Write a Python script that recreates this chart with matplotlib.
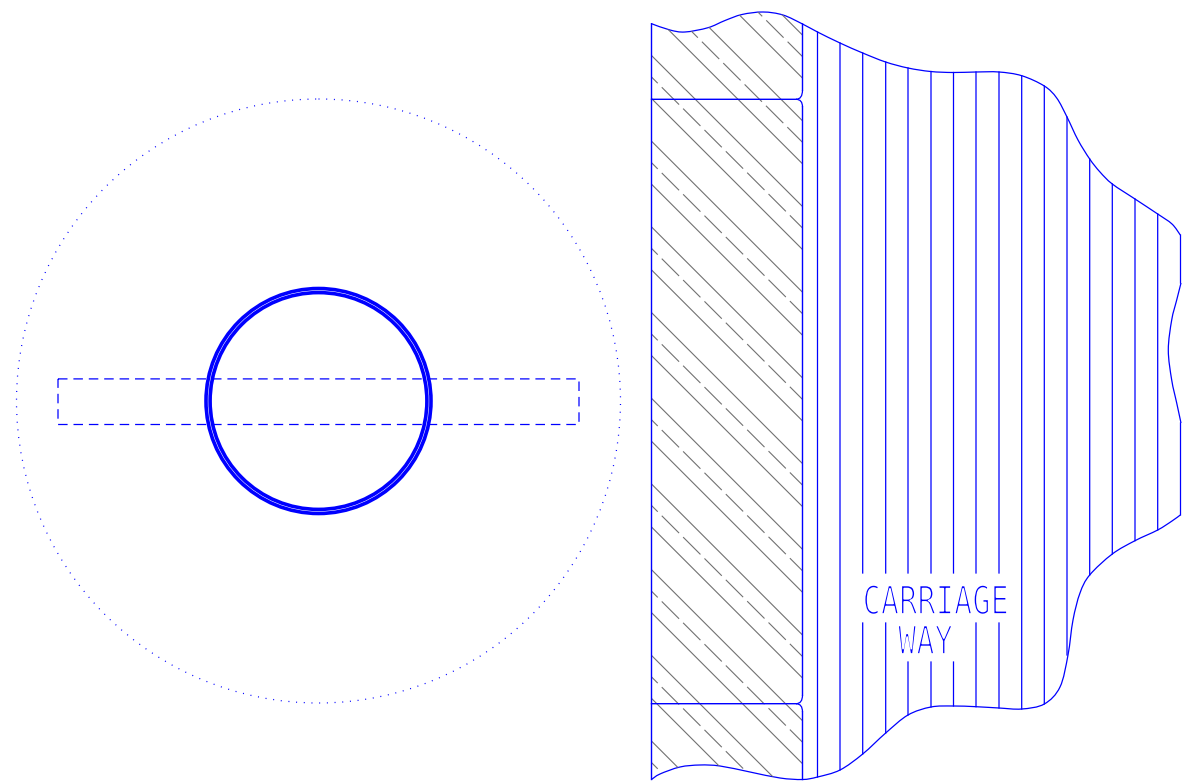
import matplotlib
matplotlib.use("Agg")
import matplotlib.pyplot as plt
from matplotlib.path import Path
from matplotlib.patches import Circle, PathPatch, Rectangle
from matplotlib.patheffects import AbstractPathEffect
from matplotlib.transforms import Affine2D

plt.rcParams['lines.scale_dashes'] = False
plt.rcParams['path.snap'] = False

BLUE = '#0000ff'
GREY = '#707070'
PX = 0.72

# --- left view
center = (318.5, 401.0)
dotted_radius = 302.0
ring_radii = [112.5, 108.4]
slot = (58.0, 378.9, 579.0, 424.5)

# --- right view, outline
top_x = [651.5, 670, 685, 708, 725, 742, 763, 783, 802.5, 817.5, 840, 862.7, 885.6, 908, 930.6, 953, 976, 999,
         1021.7, 1044.3, 1056.7, 1067, 1078, 1089.7, 1100, 1112.3, 1135, 1157.7, 1172, 1180.3]
top_y = [23.7, 30, 32, 27.7, 20.5, 14.5, 12, 15, 24, 32, 43, 53, 62, 68, 71.5, 72.5, 72, 72,
         75.7, 86, 98, 117, 140, 159, 172, 184, 199, 214, 224, 235]
wig_x = [1181, 1176.7, 1171.7, 1168.3, 1171.7, 1176.7, 1181]
wig_y = [283, 300, 320, 350, 380, 403, 423]
bot_x = [1180.3, 1172, 1157.7, 1135, 1112.3, 1089.7, 1080, 1073, 1068, 1060, 1044.3, 1021.7, 999, 976, 953,
         931, 908, 885.7, 862.7, 840, 817.5, 802.5, 780, 750, 720, 700, 680, 660, 651.5]
bot_y = [515, 521, 530, 540.7, 554, 575, 593, 620, 655, 687, 704, 709, 708, 706.7, 706,
         707, 715, 733, 754, 770, 777, 779.5, 778, 772, 766, 765, 767, 774, 779.5]

# --- right view, vertical hatch: x, top, bottom, optional gap around the text
hatch_x = [840, 862.7, 885.7, 908, 931, 953.5, 976, 999, 1021.7, 1044.3, 1067, 1089.7, 1112.3, 1135, 1157.7]
hatch_top = [43, 53, 62, 68, 71.5, 72.5, 72, 72, 75.7, 86, 117, 159, 184, 199, 214]
hatch_bot = [770, 754, 733, 715, 707, 706, 706.7, 708, 709, 704, 655, 575, 554, 540.7, 530]
gap_bot = [None, 623, 623, 662, 662, 662, 623, 623, None, None, None, None, None, None, None]
gap_top = 573

# --- offsets (y where a 45 degree hatch line meets the left edge)
solid_offsets = [-115.9, -72.9, -30.2, 12.8, 55.5, 98.5, 141.2, 184.2, 226.9, 269.9, 312.6, 355.6, 398.3, 441.3,
                 484.0, 527.0, 569.7, 612.7, 655.4, 698.4, 741.1]
dash_offsets = [-94.4, -8.7, 77.0, 162.7, 248.4, 334.1, 419.8, 505.5, 591.2, 676.9, 762.6]

label_lines = ["CARRIAGE", "WAY"]
label_xy = [(862.5, 614.0), (898.0, 654.0)]


def smooth(xs, ys):
    """Catmull-Rom through the read points, as cubic Bezier path pieces."""
    pts = list(zip(xs, ys))
    verts, codes = [pts[0]], [Path.MOVETO]
    for i in range(len(pts) - 1):
        p0 = pts[max(i - 1, 0)]
        p1, p2 = pts[i], pts[i + 1]
        p3 = pts[min(i + 2, len(pts) - 1)]
        c1 = (p1[0] + (p2[0] - p0[0]) / 6, p1[1] + (p2[1] - p0[1]) / 6)
        c2 = (p2[0] - (p3[0] - p1[0]) / 6, p2[1] - (p3[1] - p1[1]) / 6)
        verts += [c1, c2, p2]
        codes += [Path.CURVE4] * 3
    return verts, codes


class DraftGlyphs(AbstractPathEffect):
    """Squeeze the glyphs about the baseline start and thin the strokes."""
    def __init__(self, sx, sy, erode):
        super().__init__()
        self.sx, self.sy, self.erode = sx, sy, erode

    def draw_path(self, renderer, gc, tpath, affine, rgbFace=None):
        m = affine.get_matrix()
        ox, oy = m[0, 2], m[1, 2]
        aff = affine + Affine2D().translate(-ox, -oy).scale(self.sx, self.sy).translate(ox, oy)
        renderer.draw_path(gc, tpath, aff, rgbFace)
        gc0 = renderer.new_gc()
        gc0.copy_properties(gc)
        gc0.set_linewidth(self.erode)
        gc0.set_foreground('white')
        renderer.draw_path(gc0, tpath, aff, None)
        gc0.restore()


fig = plt.figure(figsize=(11.82, 7.83), dpi=100)
ax = fig.add_axes([0, 0, 1, 1])
ax.set_xlim(0, 1182)
ax.set_ylim(783, 0)
ax.axis('off')

LW = 1.25 * PX
# left view
ax.add_patch(Circle(center, dotted_radius, fill=False, ec=BLUE, lw=LW, ls=(0, (1.0 * PX, 6.7 * PX))))
for r in ring_radii:
    ax.add_patch(Circle(center, r, fill=False, ec=BLUE, lw=3.6 * PX))
x0, y0, x1, y1 = slot
ax.add_patch(Rectangle((x0, y0), x1 - x0, y1 - y0, fill=False, ec=BLUE, lw=LW,
                       ls=(0, (9.5 * PX, 5.9 * PX))))

# block clip region for diagonal hatch
n_top = top_x.index(802.5) + 1
n_bot = bot_x.index(802.5)
v1, c1 = smooth(top_x[:n_top], top_y[:n_top])
v2, c2 = smooth(bot_x[n_bot:], bot_y[n_bot:])
clip_path = Path(v1 + v2 + [v1[0]], c1 + [Path.LINETO] + c2[1:] + [Path.CLOSEPOLY])
clip_patch = PathPatch(clip_path, transform=ax.transData, fc='none', ec='none')
ax.add_patch(clip_patch)

for c in solid_offsets:
    ln, = ax.plot([651.5, 802.5], [c, c + 151.0], color=GREY, lw=1.1 * PX, solid_capstyle='butt')
    ln.set_clip_path(clip_patch)
for c in dash_offsets:
    ln, = ax.plot([640.4, 802.5], [c - 11.1, c + 151.0], color=GREY, lw=1.1 * PX,
                  ls=(0, (24.5 * PX, 5.7 * PX)), dash_capstyle='butt')
    ln.set_clip_path(clip_patch)

# outline curves
for xs, ys in [(top_x, top_y), (wig_x, wig_y), (bot_x, bot_y)]:
    v, c = smooth(xs, ys)
    ax.add_patch(PathPatch(Path(v, c), fill=False, ec=BLUE, lw=LW))

# block edges
ax.plot([651.5, 651.5], [23.7, 779.5], color=BLUE, lw=1.4 * PX)
for ya, yb in [(24, 90), (107, 695), (712, 779.5)]:
    ax.plot([802.5, 802.5], [ya, yb], color=BLUE, lw=1.4 * PX)
ax.plot([817.5, 817.5], [32, 777], color=BLUE, lw=LW)
ax.plot([1180.5, 1180.5], [235, 283], color=BLUE, lw=LW)
ax.plot([1180.5, 1180.5], [423, 515], color=BLUE, lw=LW)

# joint lines with small fillets
for yj, up, dn in [(99.3, 90, 107), (703.7, 695, 712)]:
    ax.plot([651.5, 796], [yj, yj], color=BLUE, lw=1.4 * PX)
    for yend in (up, dn):
        p = Path([(796, yj), (802.5, yj), (802.5, yend)], [Path.MOVETO, Path.CURVE3, Path.CURVE3])
        ax.add_patch(PathPatch(p, fill=False, ec=BLUE, lw=LW))

# carriage way hatch
for x, t, b, g in zip(hatch_x, hatch_top, hatch_bot, gap_bot):
    if g is None:
        ax.plot([x, x], [t, b], color=BLUE, lw=LW)
    else:
        ax.plot([x, x], [t, gap_top], color=BLUE, lw=LW)
        ax.plot([x, x], [g, b], color=BLUE, lw=LW)

# label
for s, (tx, ty) in zip(label_lines, label_xy):
    ax.text(tx, ty, s, family='DejaVu Sans Mono', fontsize=40 * PX, color=BLUE, ha='left', va='baseline',
            path_effects=[DraftGlyphs(0.76, 0.98, 1.75 * PX)])

fig.savefig('out.png', dpi=100)
